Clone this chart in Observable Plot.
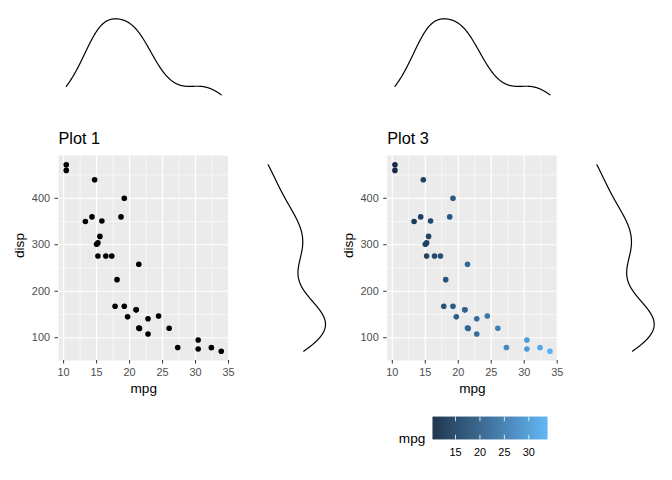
<!DOCTYPE html>
<html><head><meta charset="utf-8">
<script src="https://cdn.jsdelivr.net/npm/d3@7"></script>
<script src="https://cdn.jsdelivr.net/npm/@observablehq/plot@0.6"></script>
<style>
body{margin:0;background:#fff;}
#wrap{position:relative;width:672px;height:480px;overflow:hidden;font-family:"Liberation Sans",Arial,sans-serif;}
#wrap svg{position:absolute;left:0;top:0;}
</style></head><body><div id="wrap"></div>
<script>
// mtcars: mpg and disp
const mpg  = [21.0,21.0,22.8,21.4,18.7,18.1,14.3,24.4,22.8,19.2,17.8,16.4,17.3,15.2,10.4,10.4,14.7,32.4,30.4,33.9,21.5,15.5,15.2,13.3,19.2,27.3,26.0,30.4,15.8,19.7,15.0,21.4];
const disp = [160,160,108,258,360,225,360,146.7,140.8,167.6,167.6,275.8,275.8,275.8,472,460,440,78.7,75.7,71.1,120.1,318,304,350,400,79,120.3,95.1,351,145,301,121];
const xTicks = [10,15,20,25,30,35];
const xMinor = [12.5,17.5,22.5,27.5,32.5];
const yTicks = [100,200,300,400];
const yMinor = [150,250,350,450];
const legendTicks = [15,20,25,30];
const titles = ["Plot 1","Plot 3"];
const lowColor = "#132B43", highColor = "#56B1F7";

const cars = mpg.map((m,i)=>({mpg:m, disp:disp[i]}));

// ggplot-style 5% expansion
function expand(arr){const [a,b]=d3.extent(arr);const e=(b-a)*0.05;return [a-e,b+e];}
const xDomain = expand(mpg), yDomain = expand(disp);

// Gaussian KDE like R density() with bw.nrd0, evaluated over the data range (stat_density)
function kde(values, n=512){
  const v = values.slice().sort(d3.ascending);
  const sd = d3.deviation(v);
  const iqr = d3.quantileSorted(v,0.75)-d3.quantileSorted(v,0.25);
  const bw = 0.9*Math.min(sd, iqr/1.34)*Math.pow(v.length,-0.2);
  const [lo,hi] = d3.extent(v);
  const out=[];
  for(let i=0;i<n;i++){
    const x = lo+(hi-lo)*i/(n-1);
    let s=0; for(const xi of v){const z=(x-xi)/bw; s+=Math.exp(-0.5*z*z);}
    out.push({x, density: s/(v.length*bw*Math.sqrt(2*Math.PI))});
  }
  return out;
}
const densMpg = kde(mpg), densDisp = kde(disp);

const W=672, H=480;
const panels=[{left:58,right:228.5},{left:386.7,right:557.2}];
const pTop=155, pBottom=360;
const colorOpts = {type:"linear", domain:d3.extent(mpg), range:[lowColor,highColor], interpolate:d3.interpolateLab};
const FF = '"Liberation Sans", Arial, sans-serif';
const baseStyle = {background:"transparent", fontFamily:FF, overflow:"visible"};
const wrap = document.getElementById("wrap");

panels.forEach((p,i)=>{
  // scatter
  wrap.appendChild(Plot.plot({
    width:W, height:H,
    marginLeft:p.left, marginRight:W-p.right, marginTop:pTop, marginBottom:H-pBottom,
    style:baseStyle,
    x:{domain:xDomain}, y:{domain:yDomain},
    color: colorOpts,
    marks:[
      Plot.frame({fill:"#EBEBEB", stroke:"none"}),
      Plot.ruleX(xMinor,{stroke:"white", strokeWidth:0.6}),
      Plot.ruleY(yMinor,{stroke:"white", strokeWidth:0.6}),
      Plot.ruleX(xTicks,{stroke:"white", strokeWidth:1.2}),
      Plot.ruleY(yTicks,{stroke:"white", strokeWidth:1.2}),
      Plot.dot(cars,{x:"mpg", y:"disp", r:2.8, fill: i===0 ? "black" : "mpg", stroke:"none"}),
      Plot.axisX({ticks:xTicks, tickSize:3.5, tickPadding:4, fontSize:10.9, stroke:"#333333", fill:"#4D4D4D", label:null}),
      Plot.axisY({ticks:yTicks, tickSize:3.5, tickPadding:5, fontSize:10.9, stroke:"#333333", fill:"#4D4D4D", label:null}),
      Plot.text(["mpg"],{frameAnchor:"bottom", lineAnchor:"top", dy:22.6, fontSize:13.6, fill:"black"}),
      Plot.text(["disp"],{frameAnchor:"left", lineAnchor:"top", rotate:-90, dx:-43.7, fontSize:13.6, fill:"black"}),
      Plot.text([titles[i]],{frameAnchor:"top-left", textAnchor:"start", lineAnchor:"top", dy:-22.7, fontSize:16.3, fill:"black"})
    ]
  }));
  // top density (mpg)
  wrap.appendChild(Plot.plot({
    width:W, height:H,
    marginLeft:p.left, marginRight:W-p.right, marginTop:18.3, marginBottom:H-94.3,
    style:baseStyle,
    x:{domain:xDomain, axis:null}, y:{domain:d3.extent(densMpg,d=>d.density), axis:null},
    marks:[Plot.line(densMpg,{x:"x", y:"density", stroke:"black", strokeWidth:1.2})]
  }));
  // right density (disp)
  const dx = i===0 ? 0 : 328.7;
  wrap.appendChild(Plot.plot({
    width:W, height:H,
    marginLeft:267.7+dx, marginRight:W-(325+dx), marginTop:pTop, marginBottom:H-pBottom,
    style:baseStyle,
    x:{domain:d3.extent(densDisp,d=>d.density), axis:null}, y:{domain:yDomain, axis:null},
    marks:[Plot.line(densDisp,{x:"density", y:"x", stroke:"black", strokeWidth:1.2})]
  }));
});

// colour bar legend
const [cLo,cHi] = d3.extent(mpg);
const step = (cHi-cLo)/230;
const stops = d3.range(cLo, cHi, step);
const barH = 439.3-416.7;
wrap.appendChild(Plot.plot({
  width:W, height:H,
  marginLeft:432.5, marginRight:W-547.4, marginTop:416.7, marginBottom:H-439.3,
  style:baseStyle,
  x:{domain:[cLo,cHi]},
  color: colorOpts,
  marks:[
    Plot.rect(stops,{x1:d=>d, x2:d=>Math.min(cHi,d+step*1.6), fill:d=>d}),
    Plot.ruleX(legendTicks,{stroke:"white", strokeOpacity:0.8, strokeWidth:1, insetBottom:barH*0.8}),
    Plot.ruleX(legendTicks,{stroke:"white", strokeOpacity:0.8, strokeWidth:1, insetTop:barH*0.8}),
    Plot.axisX({ticks:legendTicks, tickSize:0, tickPadding:8, fontSize:10.9, fill:"black", label:null}),
    Plot.text(["mpg"],{frameAnchor:"left", textAnchor:"end", lineAnchor:"top", dx:-7.7, dy:4.6, fontSize:13.6, fill:"black"})
  ]
}));
</script></body></html>
